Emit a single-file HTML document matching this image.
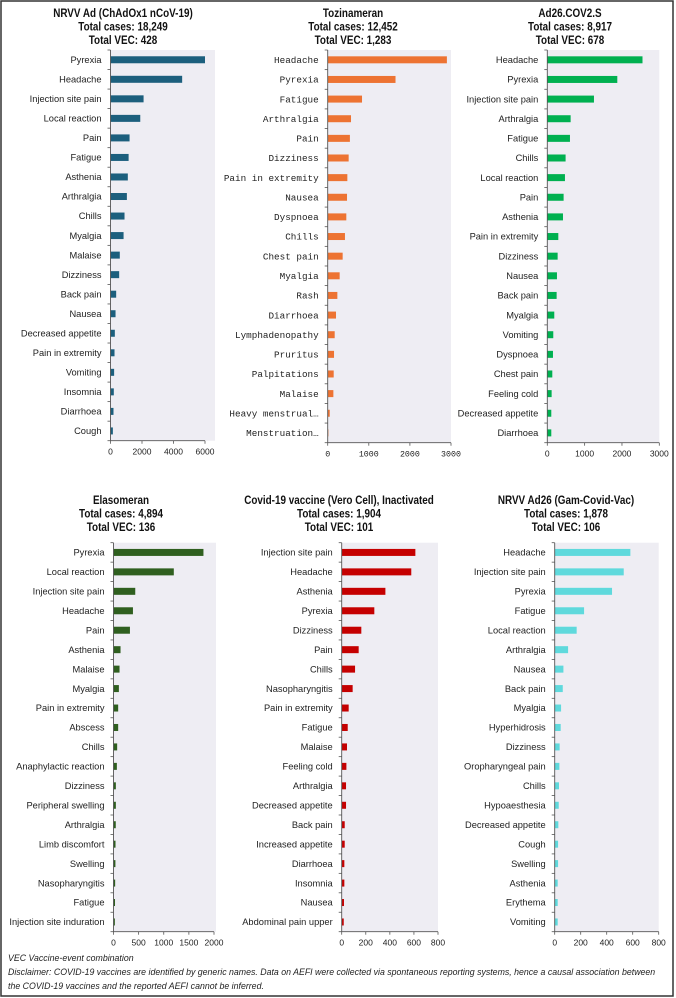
<!DOCTYPE html>
<html><head><meta charset="utf-8"><style>
html,body{margin:0;padding:0;background:#fff;}
svg{display:block;}
</style></head><body>
<svg id="fig" width="676" height="998" xmlns="http://www.w3.org/2000/svg">
<rect x="1" y="1" width="672" height="995" fill="#fff" stroke="#333" stroke-width="1.5"/>
<g font-family="Liberation Sans, sans-serif" font-style="italic" font-size="9.6" fill="#222">
<text class="foot" x="8" y="961">VEC Vaccine-event combination</text>
<text class="foot" x="8" y="975">Disclaimer: COVID-19 vaccines are identified by generic names. Data on AEFI were collected via spontaneous reporting systems, hence a causal association between</text>
<text class="foot" x="8" y="989">the COVID-19 vaccines and the reported AEFI cannot be inferred.</text>
</g>
</svg>
<script>
const cats1=["Pyrexia","Headache","Injection site pain","Local reaction","Pain","Fatigue","Asthenia","Arthralgia","Chills","Myalgia","Malaise","Dizziness","Back pain","Nausea","Decreased appetite","Pain in extremity","Vomiting","Insomnia","Diarrhoea","Cough"];
const vals1=[6000,4550,2100,1890,1210,1150,1100,1040,890,830,590,550,360,320,275,255,230,210,190,150];
const ticks1=[0,2000,4000,6000];
const cats2=["Headache","Pyrexia","Fatigue","Arthralgia","Pain","Dizziness","Pain in extremity","Nausea","Dyspnoea","Chills","Chest pain","Myalgia","Rash","Diarrhoea","Lymphadenopathy","Pruritus","Palpitations","Malaise","Heavy menstrual…","Menstruation…"];
const vals2=[2900,1650,835,567,540,510,478,470,453,420,364,291,235,202,170,154,146,138,49,16];
const ticks2=[0,1000,2000,3000];
const cats3=["Headache","Pyrexia","Injection site pain","Arthralgia","Fatigue","Chills","Local reaction","Pain","Asthenia","Pain in extremity","Dizziness","Nausea","Back pain","Myalgia","Vomiting","Dyspnoea","Chest pain","Feeling cold","Decreased appetite","Diarrhoea"];
const vals3=[2550,1875,1250,625,607,490,473,437,420,295,277,259,250,187,160,152,134,116,107,107];
const ticks3=[0,1000,2000,3000];
const cats4=["Pyrexia","Local reaction","Injection site pain","Headache","Pain","Asthenia","Malaise","Myalgia","Pain in extremity","Abscess","Chills","Anaphylactic reaction","Dizziness","Peripheral swelling","Arthralgia","Limb discomfort","Swelling","Nasopharyngitis","Fatigue","Injection site induration"];
const vals4=[1790,1200,433,387,327,140,120,107,93,93,73,67,47,47,45,40,38,33,30,27];
const ticks4=[0,500,1000,1500,2000];
const cats5=["Injection site pain","Headache","Asthenia","Pyrexia","Dizziness","Pain","Chills","Nasopharyngitis","Pain in extremity","Fatigue","Malaise","Feeling cold","Arthralgia","Decreased appetite","Back pain","Increased appetite","Diarrhoea","Insomnia","Nausea","Abdominal pain upper"];
const vals5=[612,578,363,271,163,141,111,91,58,50,44,39,36,36,25,25,22,22,19,17];
const ticks5=[0,200,400,600,800];
const cats6=["Headache","Injection site pain","Pyrexia","Fatigue","Local reaction","Arthralgia","Nausea","Back pain","Myalgia","Hyperhidrosis","Dizziness","Oropharyngeal pain","Chills","Hypoaesthesia","Decreased appetite","Cough","Swelling","Asthenia","Erythema","Vomiting"];
const vals6=[582,531,441,226,169,103,67,62,49,46,38,36,33,31,28,26,26,23,23,23];
const ticks6=[0,200,400,600,800];

const NS="http://www.w3.org/2000/svg";
const svg=document.getElementById('fig');
function mk(tag,attrs,parent){const e=document.createElementNS(NS,tag);for(const k in attrs)e.setAttribute(k,attrs[k]);(parent||svg).appendChild(e);return e;}

function panel(id,title,cats,vals,ticks,cfg){
  const g=mk('g',{});
  
  
  const x0=cfg.x0, x1=cfg.x1, y0=cfg.y0, y1=cfg.y1, max=cfg.max;
  const sx=v=>x0+(v/max)*(cfg.tickEnd-x0);
  const bg=mk('rect',{x:x0,y:y0,width:x1-x0,height:y1-y0,fill:'#eeedf3'},g);
  
  
  title.forEach((t,i)=>{
    const tt=mk('text',{x:cfg.cx,y:cfg.ty+i*13.5,'text-anchor':'middle','font-family':'Liberation Sans, sans-serif','font-weight':'bold','font-size':'11.5',fill:'#111','class':'nar'},g);
    tt.textContent=t;
    
    
  });
  const n=cats.length, band=(y1-y0)/n;
  const font=cfg.mono?'Liberation Mono, monospace':'Liberation Sans, sans-serif';
  for(let i=0;i<n;i++){
    const cy=y0+band*(i+0.5);
    const bar=mk('rect',{x:x0,y:cy-3.5,width:Math.max(0.5,sx(vals[i])-x0),height:7,fill:cfg.color},g);
    
    
    const lb=mk('text',{x:x0-9,y:cy+3.2,'text-anchor':'end','font-family':font,'font-size':'9.3',fill:'#222'},g);
    lb.textContent=cats[i];
    
    
    mk('line',{x1:x0-3,x2:x0,y1:y0+band*i,y2:y0+band*i,stroke:'#555','stroke-width':0.8},g);
  }
  mk('line',{x1:x0-3,x2:x0,y1:y1,y2:y1,stroke:'#555','stroke-width':0.8},g);
  const ya=mk('line',{x1:x0,x2:x0,y1:y0,y2:y1,stroke:'#555','stroke-width':0.9},g);
  
  
  const xa=mk('line',{x1:x0,x2:sx(ticks[ticks.length-1]),y1:y1,y2:y1,stroke:'#555','stroke-width':0.9},g);
  
  
  ticks.forEach(t=>{
    const x=sx(t);
    mk('line',{x1:x,x2:x,y1:y1,y2:y1+3,stroke:'#555','stroke-width':0.8},g);
    const tl=mk('text',{x:x,y:y1+14,'text-anchor':'middle','font-family':font,'font-size':cfg.mono?'8.3':'8.5',fill:'#222'},g);
    tl.textContent=t;
    
    
  });
}
panel('chadox1',["NRVV Ad (ChAdOx1 nCoV-19)","Total cases: 18,249","Total VEC: 428"],cats1,vals1,ticks1,
 {x0:110.5,x1:215,y0:50,y1:440.7,max:6000,tickEnd:205,cx:123,ty:17,color:'#1c5f7d'});
panel('tozinameran',["Tozinameran","Total cases: 12,452","Total VEC: 1,283"],cats2,vals2,ticks2,
 {x0:327.7,x1:451,y0:50,y1:442.7,max:3000,tickEnd:451,cx:353,ty:17,color:'#ed7332',mono:true});
panel('ad26cov2s',["Ad26.COV2.S","Total cases: 8,917","Total VEC: 678"],cats3,vals3,ticks3,
 {x0:547.3,x1:659.3,y0:50,y1:442.7,max:3000,tickEnd:659.3,cx:570,ty:17,color:'#00b050'});
panel('elasomeran',["Elasomeran","Total cases: 4,894","Total VEC: 136"],cats4,vals4,ticks4,
 {x0:113.5,x1:216,y0:542.7,y1:931.7,max:2000,tickEnd:214,cx:121,ty:504,color:'#2f5f1f'});
panel('verocell',["Covid-19 vaccine (Vero Cell), Inactivated","Total cases: 1,904","Total VEC: 101"],cats5,vals5,ticks5,
 {x0:341.7,x1:438,y0:542.7,y1:931.7,max:800,tickEnd:438,cx:339,ty:504,color:'#c50000'});
panel('gamcovidvac',["NRVV Ad26 (Gam-Covid-Vac)","Total cases: 1,878","Total VEC: 106"],cats6,vals6,ticks6,
 {x0:554.7,x1:658.7,y0:542.7,y1:931.7,max:800,tickEnd:658.7,cx:566,ty:504,color:'#5fd9dc'});

function squeeze(sel,f){
  document.querySelectorAll(sel).forEach(t=>{
    const w=t.getComputedTextLength();
    t.setAttribute('textLength',(w*f).toFixed(1));
    t.setAttribute('lengthAdjust','spacingAndGlyphs');
  });
}
squeeze('text.nar',0.86);
squeeze('text.foot',0.915);
</script>
</body></html>
